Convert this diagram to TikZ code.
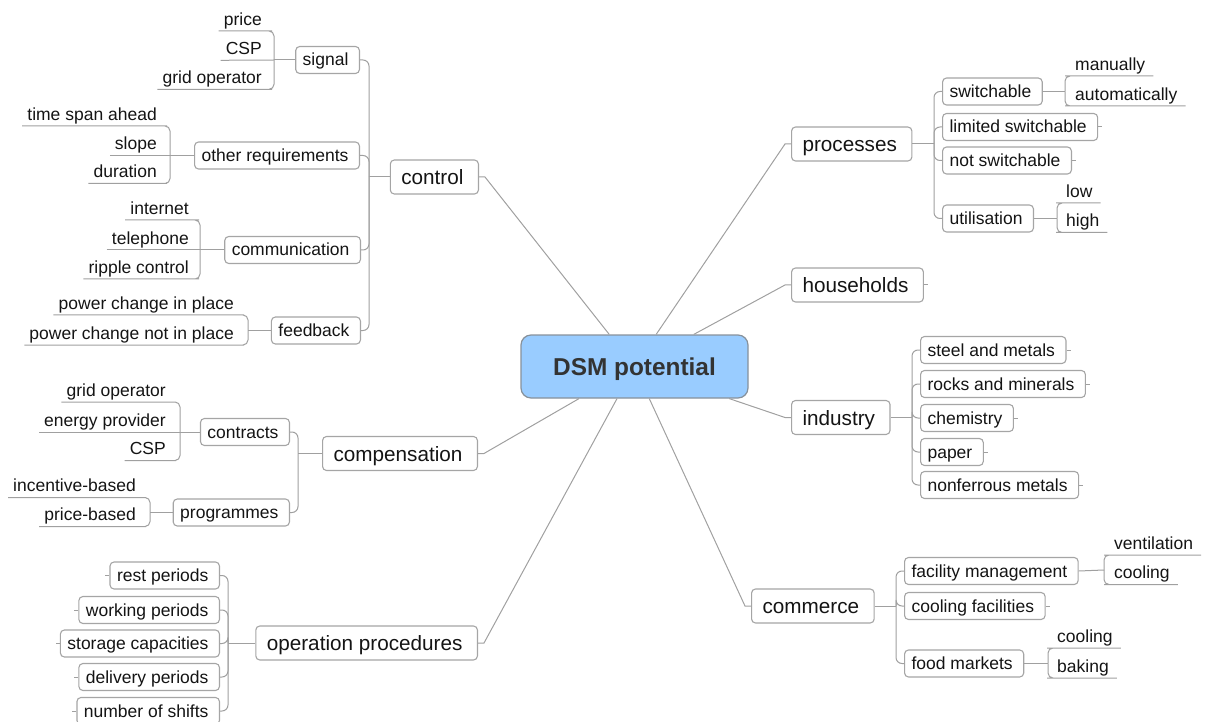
\documentclass[tikz,border=0pt]{standalone}
\usepackage{fontspec}
\setmainfont{Liberation Sans}
\definecolor{linkc}{RGB}{160,160,160}
\definecolor{boxc}{RGB}{165,165,165}
\definecolor{ink}{RGB}{20,20,20}
\definecolor{hubfill}{RGB}{153,204,255}
\definecolor{hubline}{RGB}{135,145,155}
\definecolor{hubtext}{RGB}{51,51,51}
\begin{document}
\begin{tikzpicture}[x=1pt,y=-1pt,
  link/.style={draw=linkc, line width=1pt},
  branch/.style={link, rounded corners=6pt},
  under/.style={link, rounded corners=5pt},
  hub/.style={draw=hubline, fill=hubfill, rounded corners=10pt, line width=1.2pt,
    minimum width=227pt, minimum height=63pt, text=hubtext,
    text height=17.5pt, text depth=0.5pt,
    font=\fontsize{24.4}{28}\selectfont\bfseries},
  topic/.style={draw=boxc, fill=white, rounded corners=4pt, line width=1.1pt,
    minimum height=34pt, inner xsep=11pt, text=ink,
    text height=15pt, text depth=0pt,
    font=\fontsize{20.7}{24}\selectfont, execute at end node=\hspace*{4pt}},
  sub/.style={draw=boxc, fill=white, rounded corners=4pt, line width=1.1pt,
    minimum height=27pt, inner xsep=7pt, text=ink,
    text height=12.5pt, text depth=0.5pt,
    font=\fontsize{17.5}{20}\selectfont, execute at end node=\hspace*{4pt}},
  leaf/.style={inner xsep=5pt, inner ysep=1.2pt, text height=13pt, text depth=4.4pt,
    text=ink, font=\fontsize{17.5}{20}\selectfont},
  lleaf/.style={leaf, anchor=south east},
  rleaf/.style={leaf, anchor=south west, execute at end node=\hspace*{3pt}},
]
\useasboundingbox (0,0) rectangle (1211,722);

% ---------- central topic ----------
\node[hub] (dsm) at (634.5,366.5) {DSM potential};

% ---------- main topics ----------
\node[topic, anchor=east] (control) at (479,177) {control};
\node[topic, anchor=east] (comp) at (478,453.5) {compensation};
\node[topic, anchor=east] (oper) at (478,643) {operation procedures};
\node[topic, anchor=west] (proc) at (791,144) {processes};
\node[topic, anchor=west] (house) at (791,285) {households};
\node[topic, anchor=west] (indu) at (791,417.5) {industry};
\node[topic, anchor=west] (comm) at (751,606) {commerce};

\foreach \t in {control,comp,oper}
  \draw[link] (\t.east) -- ++(6,0) -- (dsm);
\foreach \t in {proc,house,indu,comm}
  \draw[link] (\t.west) -- ++(-6,0) -- (dsm);
\draw[link] (house.east) -- ++(4,0);

% ---------- control ----------
\coordinate (jctl) at (369,177);
\node[sub, anchor=east] (signal) at (360,60) {signal};
\node[sub, anchor=east] (otherreq) at (360,155.5) {other requirements};
\node[sub, anchor=east] (commu) at (361,250) {communication};
\node[sub, anchor=east] (feedb) at (361,330.5) {feedback};
\draw[link] (control.west) -- (jctl);
\foreach \c in {signal,otherreq,commu,feedb}
  \draw[branch] (jctl) |- (\c.east);

% signal
\coordinate (jsig) at (274,60);
\node[lleaf] (price) at (267,31) {price};
\node[lleaf] (csp1) at (267,60.3) {CSP};
\node[lleaf] (grid1) at (267,89.3) {grid operator};
\draw[link] (signal.west) -- (jsig);
\draw[under] (price.south west) -- (price.south east) -| (jsig);
\draw[link] (csp1.south west) -- (jsig);
\draw[under] (grid1.south west) -- (grid1.south east) -| (jsig);

% other requirements
\coordinate (jreq) at (170,155.5);
\node[lleaf] (span) at (162,126) {time span ahead};
\node[lleaf] (slope) at (162,155.5) {slope};
\node[lleaf] (durat) at (162,183.5) {duration};
\draw[link] (otherreq.west) -- (jreq);
\draw[under] (span.south west) -- (span.south east) -| (jreq);
\draw[link] (slope.south west) -- (jreq);
\draw[under] (durat.south west) -- (durat.south east) -| (jreq);

% communication
\coordinate (jcom) at (200,250);
\node[lleaf] (inet) at (194,220) {internet};
\node[lleaf] (phone) at (194,250) {telephone};
\node[lleaf] (ripple) at (194,279) {ripple control};
\draw[link] (commu.west) -- (jcom);
\draw[under] (inet.south west) -- (inet.south east) -| (jcom);
\draw[link] (phone.south west) -- (jcom);
\draw[under] (ripple.south west) -- (ripple.south east) -| (jcom);

% feedback
\coordinate (jfb) at (248,330.5);
\node[lleaf] (inplace) at (239,315) {power change in place};
\node[lleaf] (notplace) at (239,345) {power change not in place};
\draw[link] (feedb.west) -- (jfb);
\draw[under] (inplace.south west) -- (inplace.south east) -| (jfb);
\draw[under] (notplace.south west) -- (notplace.south east) -| (jfb);

% ---------- compensation ----------
\coordinate (jcmp) at (298,453.5);
\node[sub, anchor=east] (contr) at (290,432) {contracts};
\node[sub, anchor=east] (progr) at (290,512.5) {programmes};
\draw[link] (comp.west) -- (jcmp);
\foreach \c in {contr,progr}
  \draw[branch] (jcmp) |- (\c.east);

\coordinate (jcon) at (180,432);
\node[lleaf] (grid2) at (171,402) {grid operator};
\node[lleaf] (energy) at (171,432) {energy provider};
\node[lleaf] (csp2) at (171,460.5) {CSP};
\draw[link] (contr.west) -- (jcon);
\draw[under] (grid2.south west) -- (grid2.south east) -| (jcon);
\draw[link] (energy.south west) -- (jcon);
\draw[under] (csp2.south west) -- (csp2.south east) -| (jcon);

\coordinate (jprg) at (150,512.5);
\node[lleaf] (incent) at (141,497.5) {incentive-based};
\node[lleaf] (pricebased) at (141,526.5) {price-based};
\draw[link] (progr.west) -- (jprg);
\draw[under] (incent.south west) -- (incent.south east) -| (jprg);
\draw[under] (pricebased.south west) -- (pricebased.south east) -| (jprg);

% ---------- operation procedures ----------
\coordinate (jop) at (228,643);
\node[sub, anchor=east] (rest) at (220,575.5) {rest periods};
\node[sub, anchor=east] (working) at (220,610) {working periods};
\node[sub, anchor=east] (storage) at (220,643.5) {storage capacities};
\node[sub, anchor=east] (delivery) at (220,677) {delivery periods};
\node[sub, anchor=east] (shifts) at (220,711) {number of shifts};
\draw[link] (oper.west) -- (jop);
\foreach \c in {rest,working,storage,delivery,shifts} {
  \draw[branch] (jop) |- (\c.east);
  \draw[link] (\c.west) -- ++(-4,0);
}

% ---------- processes ----------
\coordinate (jpro) at (934,144);
\node[sub, anchor=west] (switch) at (942,91.5) {switchable};
\node[sub, anchor=west] (limited) at (942,127) {limited switchable};
\node[sub, anchor=west] (notsw) at (942,160.5) {not switchable};
\node[sub, anchor=west] (util) at (942,218.5) {utilisation};
\draw[link] (proc.east) -- (jpro);
\foreach \c in {switch,limited,notsw,util}
  \draw[branch] (jpro) |- (\c.west);
\draw[link] (limited.east) -- ++(4,0);
\draw[link] (notsw.east) -- ++(4,0);

\coordinate (jsw) at (1065,91.5);
\node[rleaf] (manual) at (1070,76) {manually};
\node[rleaf] (auto) at (1070,106) {automatically};
\draw[link] (switch.east) -- (jsw);
\draw[under] (jsw) |- (manual.south west) -- (manual.south east);
\draw[under] (jsw) |- (auto.south west) -- (auto.south east);

\coordinate (jut) at (1057,218.5);
\node[rleaf] (low) at (1061,203) {low};
\node[rleaf] (high) at (1061,232.5) {high};
\draw[link] (util.east) -- (jut);
\draw[under] (jut) |- (low.south west) -- (low.south east);
\draw[under] (jut) |- (high.south west) -- (high.south east);

% ---------- industry ----------
\coordinate (jind) at (912,417.5);
\node[sub, anchor=west] (steel) at (920,350) {steel and metals};
\node[sub, anchor=west] (rocks) at (920,384) {rocks and minerals};
\node[sub, anchor=west] (chem) at (920,418) {chemistry};
\node[sub, anchor=west] (paper) at (920,452) {paper};
\node[sub, anchor=west] (nonfer) at (920,485) {nonferrous metals};
\draw[link] (indu.east) -- (jind);
\foreach \c in {steel,rocks,chem,paper,nonfer} {
  \draw[branch] (jind) |- (\c.west);
  \draw[link] (\c.east) -- ++(4,0);
}

% ---------- commerce ----------
\coordinate (jcomm) at (896,606);
\node[sub, anchor=west] (facility) at (904,571) {facility management};
\node[sub, anchor=west] (coolfac) at (904,606) {cooling facilities};
\node[sub, anchor=west] (food) at (904,663.5) {food markets};
\draw[link] (comm.east) -- (jcomm);
\foreach \c in {facility,coolfac,food}
  \draw[branch] (jcomm) |- (\c.west);
\draw[link] (coolfac.east) -- ++(4,0);

\coordinate (jfac) at (1104,570);
\node[rleaf] (vent) at (1109,555) {ventilation};
\node[rleaf] (cool1) at (1109,584.5) {cooling};
\draw[link] (facility.east) -- (jfac);
\draw[under] (jfac) |- (vent.south west) -- (vent.south east);
\draw[under] (jfac) |- (cool1.south west) -- (cool1.south east);

\coordinate (jfood) at (1048,663.5);
\node[rleaf] (cool2) at (1052,648) {cooling};
\node[rleaf] (baking) at (1052,678) {baking};
\draw[link] (food.east) -- (jfood);
\draw[under] (jfood) |- (cool2.south west) -- (cool2.south east);
\draw[under] (jfood) |- (baking.south west) -- (baking.south east);
\end{tikzpicture}
\end{document}
